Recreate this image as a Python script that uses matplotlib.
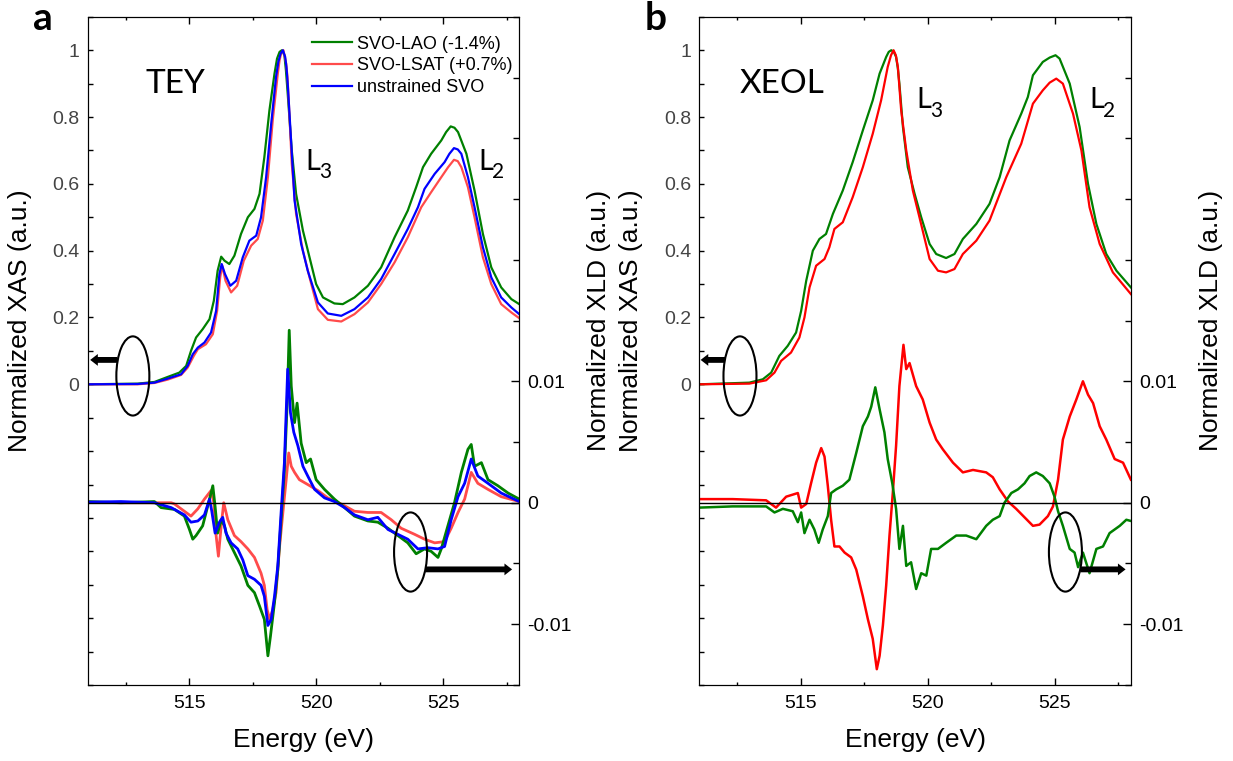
import matplotlib

matplotlib.use("Agg")
import matplotlib.pyplot as plt
import numpy as np
from matplotlib.patches import Ellipse
from matplotlib.ticker import FixedLocator, FuncFormatter, MultipleLocator

plt.rcParams["font.family"] = ["Liberation Sans", "DejaVu Sans"]

GREEN = "#008000"
RED_A = "#ff4b4b"
BLUE = "#0000ff"
RED_B = "#ff0000"
LABEL_FONT = ["Lato", "DejaVu Sans"]

# ---- panel a: TEY XAS ----
tey_lao_e = [511.00, 512.97, 513.63, 514.15, 514.61, 514.88, 515.07, 515.27, 515.53, 515.80,
             515.97, 516.12, 516.26, 516.39, 516.58, 516.78, 517.04, 517.31, 517.57, 517.77,
             517.96, 518.16, 518.36, 518.46, 518.56, 518.65, 518.75, 518.81, 518.88, 519.04,
             519.21, 519.48, 519.74, 520.00, 520.27, 520.72, 521.05, 521.51, 522.04, 522.56,
             523.09, 523.61, 523.94, 524.21, 524.53, 524.93, 525.12, 525.30, 525.45, 525.59,
             525.92, 526.24, 526.57, 526.90, 527.29, 527.69, 528.00]
tey_lao = [0.0, 0.002, 0.007, 0.022, 0.035, 0.055, 0.10, 0.14, 0.165, 0.195,
           0.25, 0.34, 0.382, 0.37, 0.36, 0.385, 0.45, 0.50, 0.525, 0.57,
           0.68, 0.82, 0.93, 0.975, 0.995, 1.0, 0.985, 0.94, 0.87, 0.70,
           0.57, 0.46, 0.38, 0.30, 0.26, 0.242, 0.24, 0.26, 0.295, 0.35,
           0.44, 0.52, 0.59, 0.65, 0.69, 0.73, 0.755, 0.772, 0.768, 0.755,
           0.69, 0.58, 0.45, 0.35, 0.29, 0.255, 0.24]

tey_lsat_e = [511.00, 512.97, 513.63, 514.15, 514.68, 514.94, 515.18, 515.34, 515.66, 515.93,
              516.10, 516.22, 516.30, 516.43, 516.65, 516.89, 517.15, 517.44, 517.70, 517.90,
              518.10, 518.29, 518.49, 518.56, 518.62, 518.71, 518.82, 518.87, 518.92, 519.04,
              519.21, 519.48, 519.74, 520.07, 520.46, 520.99, 521.51, 522.04, 522.56, 523.09,
              523.61, 524.14, 524.53, 524.93, 525.20, 525.43, 525.58, 525.72, 525.98, 526.24,
              526.57, 526.90, 527.29, 527.69, 528.00]
tey_lsat = [0.0, 0.0, 0.004, 0.014, 0.028, 0.05, 0.085, 0.105, 0.12, 0.15,
            0.22, 0.32, 0.355, 0.31, 0.275, 0.295, 0.37, 0.415, 0.435, 0.49,
            0.62, 0.79, 0.93, 0.97, 0.99, 1.0, 0.96, 0.92, 0.85, 0.66,
            0.51, 0.40, 0.32, 0.225, 0.193, 0.188, 0.21, 0.245, 0.30, 0.365,
            0.44, 0.53, 0.575, 0.62, 0.65, 0.672, 0.668, 0.65, 0.59, 0.50,
            0.38, 0.30, 0.24, 0.215, 0.198]

tey_svo_e = [511.00, 512.97, 513.63, 514.15, 514.68, 514.94, 515.14, 515.34, 515.60, 515.86,
             516.06, 516.19, 516.28, 516.41, 516.62, 516.85, 517.11, 517.37, 517.64, 517.83,
             518.03, 518.23, 518.42, 518.51, 518.60, 518.69, 518.78, 518.83, 518.88, 519.02,
             519.15, 519.41, 519.67, 520.07, 520.46, 520.99, 521.51, 522.04, 522.56, 523.09,
             523.61, 524.01, 524.27, 524.67, 525.06, 525.25, 525.43, 525.58, 525.72, 525.98,
             526.24, 526.57, 526.90, 527.29, 527.69, 528.00]
tey_svo = [0.0, 0.001, 0.005, 0.017, 0.03, 0.055, 0.09, 0.11, 0.125, 0.155,
           0.22, 0.33, 0.36, 0.33, 0.295, 0.31, 0.38, 0.43, 0.445, 0.50,
           0.62, 0.78, 0.92, 0.965, 0.99, 1.0, 0.98, 0.95, 0.90, 0.72,
           0.55, 0.42, 0.34, 0.245, 0.212, 0.205, 0.225, 0.26, 0.315, 0.39,
           0.465, 0.53, 0.585, 0.63, 0.665, 0.69, 0.707, 0.703, 0.69, 0.62,
           0.53, 0.41, 0.32, 0.26, 0.23, 0.21]

# ---- panel a: TEY XLD (units of 1e-3) ----
xld_lao_e = [511.00, 512.31, 513.63, 513.89, 514.42, 514.81, 515.01, 515.14, 515.27, 515.53,
             515.80, 515.93, 516.02, 516.12, 516.26, 516.39, 516.52, 516.78, 517.04, 517.31,
             517.57, 517.77, 517.96, 518.10, 518.20, 518.36, 518.49, 518.62, 518.75, 518.86,
             518.94, 519.02, 519.15, 519.25, 519.41, 519.61, 519.78, 520.00, 520.33, 520.72,
             521.12, 521.51, 522.04, 522.43, 522.83, 523.22, 523.61, 523.94, 524.27, 524.53,
             524.80, 524.93, 525.19, 525.45, 525.72, 525.98, 526.11, 526.24, 526.51, 526.77,
             527.16, 527.56, 528.00]
xld_lao = [0.1, 0.0, 0.1, -0.4, -0.55, -1.1, -2.2, -3.0, -2.7, -1.9,
           0.3, 1.4, -0.3, -2.5, -1.4, -1.9, -3.0, -4.1, -5.2, -6.8,
           -7.4, -8.5, -9.6, -12.6, -11.0, -8.2, -5.5, -1.4, 2.7, 8.2,
           14.2, 9.6, 6.6, 8.2, 4.9, 3.3, 3.6, 1.9, 1.1, 0.3,
           -0.4, -1.1, -1.5, -1.6, -2.1, -2.7, -3.3, -4.2, -3.8, -4.0,
           -4.5, -3.8, -1.9, 0.0, 2.5, 4.4, 4.8, 3.0, 3.3, 1.9,
           1.4, 0.8, 0.3]

xld_lsat_e = [511.00, 512.31, 514.29, 514.42, 514.81, 515.07, 515.34, 515.60, 515.86, 515.97,
              516.06, 516.15, 516.26, 516.36, 516.52, 516.78, 517.04, 517.31, 517.57, 517.83,
              517.96, 518.07, 518.17, 518.29, 518.42, 518.56, 518.69, 518.82, 518.92, 519.02,
              519.15, 519.34, 519.67, 520.07, 520.46, 520.99, 521.51, 522.04, 522.56, 522.96,
              523.35, 523.88, 524.27, 524.67, 525.06, 525.32, 525.59, 525.85, 526.11, 526.37,
              526.77, 527.29, 528.00]
xld_lsat = [0.05, 0.0, 0.0, -0.1, -0.7, -1.1, -0.5, 0.3, 1.0, 0.0,
            -2.7, -4.4, -1.9, 0.0, -1.4, -2.7, -3.2, -3.8, -4.5, -5.8,
            -6.8, -8.8, -9.6, -8.8, -7.4, -3.6, -0.8, 1.9, 4.1, 3.0,
            2.5, 1.9, 1.5, 1.0, 0.4, -0.1, -0.7, -0.8, -0.8, -1.4,
            -2.1, -2.6, -3.0, -3.3, -3.2, -2.1, -0.8, 0.3, 2.5, 1.6,
            1.1, 0.5, 0.1]

xld_svo_e = [511.00, 512.31, 513.63, 514.29, 514.81, 515.07, 515.34, 515.60, 515.80, 515.89,
             516.02, 516.19, 516.32, 516.45, 516.65, 516.91, 517.11, 517.31, 517.57, 517.83,
             517.96, 518.10, 518.23, 518.36, 518.49, 518.62, 518.75, 518.88, 518.99, 519.12,
             519.28, 519.48, 519.67, 519.94, 520.33, 520.72, 521.12, 521.51, 522.04, 522.43,
             522.83, 523.22, 523.61, 524.01, 524.40, 524.80, 525.06, 525.32, 525.59, 525.85,
             526.11, 526.37, 526.77, 527.29, 528.00]
xld_svo = [0.05, 0.1, 0.0, -0.4, -1.0, -1.6, -1.5, -1.0, 0.3, -0.7,
           -2.5, -1.6, -1.2, -2.5, -3.3, -3.8, -4.7, -6.0, -6.3, -6.8,
           -7.7, -10.1, -9.6, -7.7, -5.2, -0.8, 3.3, 11.0, 7.4, 5.8,
           4.7, 3.0, 2.2, 1.1, 0.4, 0.1, -0.4, -1.0, -1.4, -1.2,
           -2.2, -2.6, -3.0, -3.8, -3.7, -3.8, -3.6, -1.4, 0.5, 1.6,
           3.6, 2.2, 1.6, 0.8, 0.1]

# ---- panel b: XEOL XAS ----
xeol_lao_e = [511.00, 512.97, 513.50, 513.83, 514.15, 514.48, 514.81, 515.01, 515.21, 515.47,
              515.73, 515.99, 516.26, 516.65, 517.04, 517.44, 517.83, 518.10, 518.36, 518.46,
              518.56, 518.66, 518.75, 518.82, 518.88, 519.02, 519.21, 519.48, 519.74, 520.07,
              520.33, 520.72, 521.05, 521.38, 521.91, 522.43, 522.83, 523.22, 523.68, 523.94,
              524.14, 524.53, 524.80, 525.03, 525.19, 525.59, 525.98, 526.31, 526.64, 527.03,
              527.43, 528.00]
xeol_lao = [0.0, 0.005, 0.015, 0.035, 0.085, 0.115, 0.155, 0.22, 0.31, 0.40,
            0.435, 0.45, 0.51, 0.58, 0.665, 0.76, 0.85, 0.93, 0.98, 0.995,
            1.0, 0.995, 0.98, 0.945, 0.90, 0.77, 0.65, 0.57, 0.50, 0.42,
            0.39, 0.378, 0.39, 0.435, 0.48, 0.54, 0.62, 0.73, 0.81, 0.86,
            0.925, 0.965, 0.978, 0.985, 0.975, 0.90, 0.77, 0.60, 0.48, 0.39,
            0.34, 0.29]

xeol_lsat_e = [511.00, 512.97, 513.63, 513.96, 514.22, 514.61, 514.94, 515.14, 515.34, 515.60,
               515.93, 516.12, 516.32, 516.65, 517.04, 517.44, 517.83, 518.16, 518.42, 518.55,
               518.65, 518.74, 518.82, 518.95, 519.15, 519.41, 519.67, 520.07, 520.40, 520.72,
               521.05, 521.38, 521.91, 522.43, 523.09, 523.68, 524.14, 524.53, 524.80, 525.06,
               525.32, 525.72, 526.05, 526.37, 526.77, 527.29, 528.00]
xeol_lsat = [0.0, 0.002, 0.012, 0.035, 0.07, 0.095, 0.14, 0.20, 0.29, 0.355,
             0.375, 0.41, 0.465, 0.485, 0.56, 0.65, 0.75, 0.85, 0.95, 0.985,
             1.0, 0.985, 0.95, 0.82, 0.70, 0.58, 0.50, 0.375, 0.34, 0.335,
             0.345, 0.39, 0.43, 0.49, 0.62, 0.72, 0.84, 0.88, 0.903, 0.915,
             0.90, 0.81, 0.70, 0.53, 0.42, 0.335, 0.27]

# ---- panel b: XEOL XLD (units of 1e-3) ----
xeol_xld_lsat_e = [511.00, 512.31, 513.63, 514.02, 514.42, 514.88, 515.01, 515.21, 515.40, 515.60,
                   515.80, 515.93, 516.06, 516.19, 516.32, 516.52, 516.72, 516.98, 517.18, 517.44,
                   517.64, 517.83, 517.99, 518.10, 518.23, 518.36, 518.49, 518.62, 518.75, 518.88,
                   519.04, 519.15, 519.28, 519.54, 519.80, 520.07, 520.33, 520.59, 520.99, 521.38,
                   521.78, 522.30, 522.56, 522.83, 523.16, 523.48, 523.81, 524.14, 524.40, 524.73,
                   524.93, 525.13, 525.32, 525.59, 525.85, 526.11, 526.31, 526.51, 526.77, 527.03,
                   527.36, 527.69, 528.00]
xeol_xld_lsat = [0.3, 0.3, 0.2, -0.4, 0.5, 0.8, -0.4, -0.1, 1.6, 3.3,
                 4.5, 3.8, 1.4, -1.4, -3.6, -3.6, -4.1, -4.5, -5.5, -7.7,
                 -9.6, -11.2, -13.7, -12.6, -10.1, -6.8, -2.7, 0.8, 4.7, 9.6,
                 13.0, 11.0, 11.5, 9.6, 8.5, 6.6, 5.2, 4.4, 3.3, 2.5,
                 2.7, 2.5, 2.1, 1.1, 0.1, -0.5, -1.2, -1.9, -1.8, -1.1,
                 -0.3, 1.9, 5.2, 7.1, 8.5, 10.0, 8.9, 8.2, 6.3, 5.2,
                 3.6, 3.3, 1.9]

xeol_xld_lao_e = [511.00, 512.31, 513.63, 513.96, 514.29, 514.68, 514.88, 515.01, 515.14, 515.34,
                  515.53, 515.70, 515.86, 516.06, 516.19, 516.39, 516.65, 516.91, 517.18, 517.44,
                  517.64, 517.77, 517.93, 518.10, 518.29, 518.42, 518.60, 518.75, 518.88, 519.02,
                  519.15, 519.34, 519.54, 519.74, 519.94, 520.13, 520.40, 520.72, 521.12, 521.51,
                  521.91, 522.30, 522.56, 522.83, 523.02, 523.29, 523.55, 523.81, 524.01, 524.27,
                  524.53, 524.80, 524.99, 525.13, 525.32, 525.59, 525.78, 525.92, 526.11, 526.37,
                  526.64, 526.90, 527.16, 527.56, 527.82, 528.00]
xeol_xld_lao = [-0.4, -0.3, -0.3, -0.8, -0.5, -0.7, -1.6, -0.8, -2.5, -1.4,
                -2.2, -3.3, -2.2, -1.1, 0.8, 1.1, 1.4, 1.9, 4.1, 6.3,
                7.1, 7.9, 9.5, 7.7, 5.8, 3.6, 1.6, -0.5, -3.8, -1.9,
                -5.2, -4.9, -7.1, -5.8, -6.0, -3.8, -3.8, -3.3, -2.7, -2.7,
                -3.0, -1.9, -1.4, -1.1, 0.0, 0.8, 1.1, 1.6, 2.2, 2.5,
                2.2, 1.6, 0.5, -0.7, -1.9, -3.8, -4.1, -5.3, -4.1, -5.8,
                -3.8, -3.6, -2.5, -1.9, -1.4, -1.5]


def style_axes(ax, twin, left_label, right_label):
    ax.set_xlim(511, 528)
    ax.set_ylim(-0.9, 1.1)
    twin.set_ylim(-0.015, 0.04)

    ax.xaxis.set_major_locator(FixedLocator([515, 520, 525]))
    ax.xaxis.set_minor_locator(MultipleLocator(2.5))
    ax.yaxis.set_major_locator(FixedLocator([0, 0.2, 0.4, 0.6, 0.8, 1.0]))
    ax.yaxis.set_minor_locator(MultipleLocator(0.1))
    ax.yaxis.set_major_formatter(FuncFormatter(lambda v, p: f"{v:g}"))
    twin.yaxis.set_major_locator(FixedLocator([-0.01, 0, 0.01]))
    twin.yaxis.set_minor_locator(MultipleLocator(0.005))
    twin.yaxis.set_major_formatter(FuncFormatter(lambda v, p: f"{v:g}"))

    ax.tick_params(axis="x", which="both", direction="in", top=True, labelsize=14, pad=7)
    ax.tick_params(axis="x", which="major", length=5, width=1)
    ax.tick_params(axis="x", which="minor", length=2.5, width=1)
    ax.tick_params(axis="y", which="both", direction="in", length=3.5, width=1,
                   labelsize=14, pad=6, labelcolor="#444444")
    twin.tick_params(axis="y", which="major", direction="in", length=5.5, width=1,
                     labelsize=14, pad=6)
    twin.tick_params(axis="y", which="minor", direction="in", length=4, width=1)

    ax.set_xlabel("Energy (eV)", fontsize=19, labelpad=12)
    ax.set_ylabel(left_label, fontsize=19)
    twin.set_ylabel(right_label, fontsize=19)
    ax.yaxis.set_label_coords(-0.13, 0.545)
    twin.yaxis.set_label_coords(1.157, 0.545)

    twin.axhline(0, color="black", linewidth=1.0)


def add_marks(ax, twin, left_ellipse, left_arrow, right_ellipse, right_arrow):
    for (cx, cy) in (left_ellipse, right_ellipse):
        twin.add_patch(Ellipse((cx, cy), 1.3, 0.237, transform=ax.transData,
                               fill=False, edgecolor="black", linewidth=1.5, zorder=5))
    style = "simple,head_length=5.5,head_width=8.5,tail_width=4.2"
    for (tail, head) in (left_arrow, right_arrow):
        twin.annotate("", xy=head, xytext=tail, xycoords=ax.transData,
                      textcoords=ax.transData,
                      arrowprops=dict(arrowstyle=style, fc="black", ec="black", lw=0,
                                      shrinkA=0, shrinkB=0, mutation_scale=1),
                      zorder=5)


def edge_label(ax, x, y, sub, x_sub, y_sub):
    ax.text(x, y, "L", fontsize=21, family=LABEL_FONT, va="baseline", ha="left")
    ax.text(x_sub, y_sub, sub, fontsize=15, family=LABEL_FONT, va="baseline", ha="left")


fig = plt.figure(figsize=(12.33, 7.61), dpi=100)
ax_a = fig.add_axes([0.0711, 0.0999, 0.350, 0.878])
ax_b = fig.add_axes([0.5672, 0.0999, 0.350, 0.878])
tw_a = ax_a.twinx()
tw_b = ax_b.twinx()

# panel a
ax_a.plot(tey_lao_e, tey_lao, color=GREEN, lw=1.6, label="SVO-LAO (-1.4%)")
ax_a.plot(tey_lsat_e, tey_lsat, color=RED_A, lw=1.6, label="SVO-LSAT (+0.7%)")
ax_a.plot(tey_svo_e, tey_svo, color=BLUE, lw=1.6, label="unstrained SVO")
tw_a.plot(xld_lsat_e, np.array(xld_lsat) * 1e-3, color=RED_A, lw=2.0)
tw_a.plot(xld_lao_e, np.array(xld_lao) * 1e-3, color=GREEN, lw=2.0)
tw_a.plot(xld_svo_e, np.array(xld_svo) * 1e-3, color=BLUE, lw=2.0)
style_axes(ax_a, tw_a, "Normalized XAS (a.u.)", "Normalized XLD (a.u.)")
ax_a.legend(loc="upper left", bbox_to_anchor=(0.52, 0.972), frameon=False, fontsize=13,
            handlelength=2.2, handletextpad=0.3, labelspacing=0.26, borderpad=0,
            borderaxespad=0)
ax_a.text(513.26, 0.872, "TEY", fontsize=24, family=LABEL_FONT, va="baseline")
edge_label(ax_a, 519.58, 0.641, "3", 520.12, 0.617)
edge_label(ax_a, 526.39, 0.641, "2", 526.94, 0.617)
add_marks(ax_a, tw_a, (512.78, 0.025), ((512.17, 0.073), (511.1, 0.073)),
          (523.72, -0.502), ((524.3, -0.554), (527.72, -0.554)))

# panel b
ax_b.plot(xeol_lao_e, xeol_lao, color=GREEN, lw=1.6)
ax_b.plot(xeol_lsat_e, xeol_lsat, color=RED_B, lw=1.6)
tw_b.plot(xeol_xld_lsat_e, np.array(xeol_xld_lsat) * 1e-3, color=RED_B, lw=1.8)
tw_b.plot(xeol_xld_lao_e, np.array(xeol_xld_lao) * 1e-3, color=GREEN, lw=1.8)
style_axes(ax_b, tw_b, "Normalized XAS (a.u.)", "Normalized XLD (a.u.)")
ax_b.text(512.57, 0.872, "XEOL", fontsize=24, family=LABEL_FONT, va="baseline")
edge_label(ax_b, 519.54, 0.827, "3", 520.10, 0.80)
edge_label(ax_b, 526.37, 0.827, "2", 526.92, 0.80)
add_marks(ax_b, tw_b, (512.6, 0.025), ((512.01, 0.073), (511.05, 0.073)),
          (525.42, -0.502), ((526.01, -0.554), (527.79, -0.554)))

fig.text(0.0268, 0.9606, "a", fontsize=28, fontweight="bold", family=LABEL_FONT)
fig.text(0.523, 0.9606, "b", fontsize=28, fontweight="bold", family=LABEL_FONT)

fig.savefig("out.png", dpi=100)
plt.close(fig)
